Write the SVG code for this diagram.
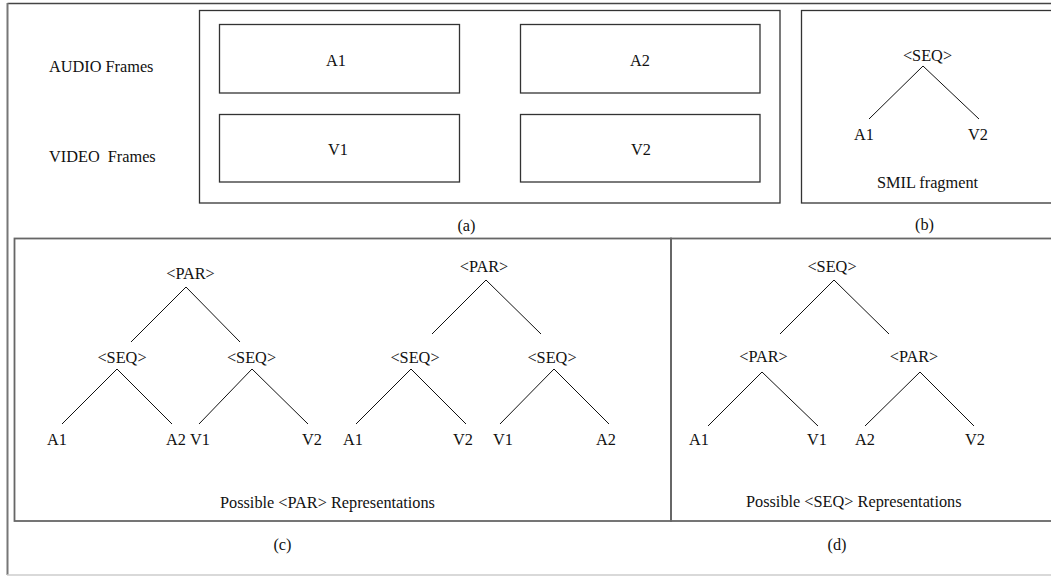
<svg xmlns="http://www.w3.org/2000/svg" width="1051" height="576" viewBox="0 0 1051 576">
<style>
text{font-family:"Liberation Serif","Times New Roman",serif;font-size:16.3px;fill:#111}
.m{text-anchor:middle}
.box{fill:none;stroke:#333;stroke-width:1.3}
.frame{fill:none;stroke:#666;stroke-width:1.8}
.edge{stroke:#111;stroke-width:1;fill:none}
</style>
<rect width="1051" height="576" fill="#fff"/>
<g id="outer-frame">
<line x1="7.5" y1="3.5" x2="1051" y2="3.5" stroke="#444" stroke-width="1.5"/>
<line x1="7.5" y1="3" x2="7.5" y2="575" stroke="#777" stroke-width="2"/>
<line x1="7" y1="575" x2="1051" y2="575" stroke="#ccc" stroke-width="1.5"/>
</g>
<g id="panel-a">
<rect class="box" x="199.5" y="10.5" width="580.5" height="192.5" stroke="#222"/>
<text x="49" y="72">AUDIO Frames</text>
<text x="49" y="162" xml:space="preserve">VIDEO  Frames</text>
<text class="m" x="466.5" y="231">(a)</text>
</g>
<g id="frame-A1"><rect class="box" x="219.5" y="24.5" width="240" height="68.5"/><text class="m" x="336" y="66">A1</text></g>
<g id="frame-A2"><rect class="box" x="520.5" y="24.5" width="239.5" height="68.5"/><text class="m" x="640" y="66">A2</text></g>
<g id="frame-V1"><rect class="box" x="219.5" y="114.5" width="240" height="67.5"/><text class="m" x="338" y="155">V1</text></g>
<g id="frame-V2"><rect class="box" x="520.5" y="114.5" width="239.5" height="67.5"/><text class="m" x="641" y="155">V2</text></g>
<g id="panel-b">
<rect class="box" x="801.5" y="10.5" width="260" height="192.5" stroke="#222"/>
<text class="m" x="927.5" y="61">&lt;SEQ&gt;</text>
<text x="854" y="140">A1</text>
<text x="968" y="140">V2</text>
<text class="m" x="927.5" y="188">SMIL fragment</text>
<text class="m" x="924.5" y="230">(b)</text>
</g>
<g id="panel-c">
<rect class="frame" x="14.5" y="238.5" width="656.5" height="282.5"/>
<text class="m" x="190.5" y="279">&lt;PAR&gt;</text>
<text class="m" x="122" y="363">&lt;SEQ&gt;</text>
<text class="m" x="251.5" y="363">&lt;SEQ&gt;</text>
<text x="47" y="445">A1</text>
<text x="166" y="445">A2</text>
<text x="190" y="445">V1</text>
<text x="302" y="445">V2</text>
<text class="m" x="484" y="272">&lt;PAR&gt;</text>
<text class="m" x="415" y="363">&lt;SEQ&gt;</text>
<text class="m" x="552" y="363">&lt;SEQ&gt;</text>
<text x="343" y="445">A1</text>
<text x="453" y="445">V2</text>
<text x="493" y="445">V1</text>
<text x="596" y="445">A2</text>
<text x="220" y="508">Possible &lt;PAR&gt; Representations</text>
<text class="m" x="282.5" y="550">(c)</text>
</g>
<g id="panel-d">
<rect class="frame" x="671" y="238.5" width="400" height="282.5"/>
<text class="m" x="832" y="272">&lt;SEQ&gt;</text>
<text class="m" x="763.5" y="362">&lt;PAR&gt;</text>
<text class="m" x="914" y="362">&lt;PAR&gt;</text>
<text x="689" y="445">A1</text>
<text x="807" y="445">V1</text>
<text x="855" y="445">A2</text>
<text x="965" y="445">V2</text>
<text x="746" y="507">Possible &lt;SEQ&gt; Representations</text>
<text class="m" x="837" y="550">(d)</text>
</g>
<g id="connectors" class="edge">
<path class="edge" d="M923 66L869 119M923 66L979 119"/>
<path class="edge" d="M186 287L131 342M186 287L240 342M117 369L62 424M117 369L172 424M252 369L199 424M252 369L308 424"/>
<path class="edge" d="M486 280L432 334M486 280L541 334M411 369L356 424M411 369L466 424M554 369L500 424M554 369L609 424"/>
<path class="edge" d="M834 280L780 334M834 280L889 334M762 372L708 426M762 372L818 426M920 372L865 426M920 372L974 426"/>
</g>
</svg>
